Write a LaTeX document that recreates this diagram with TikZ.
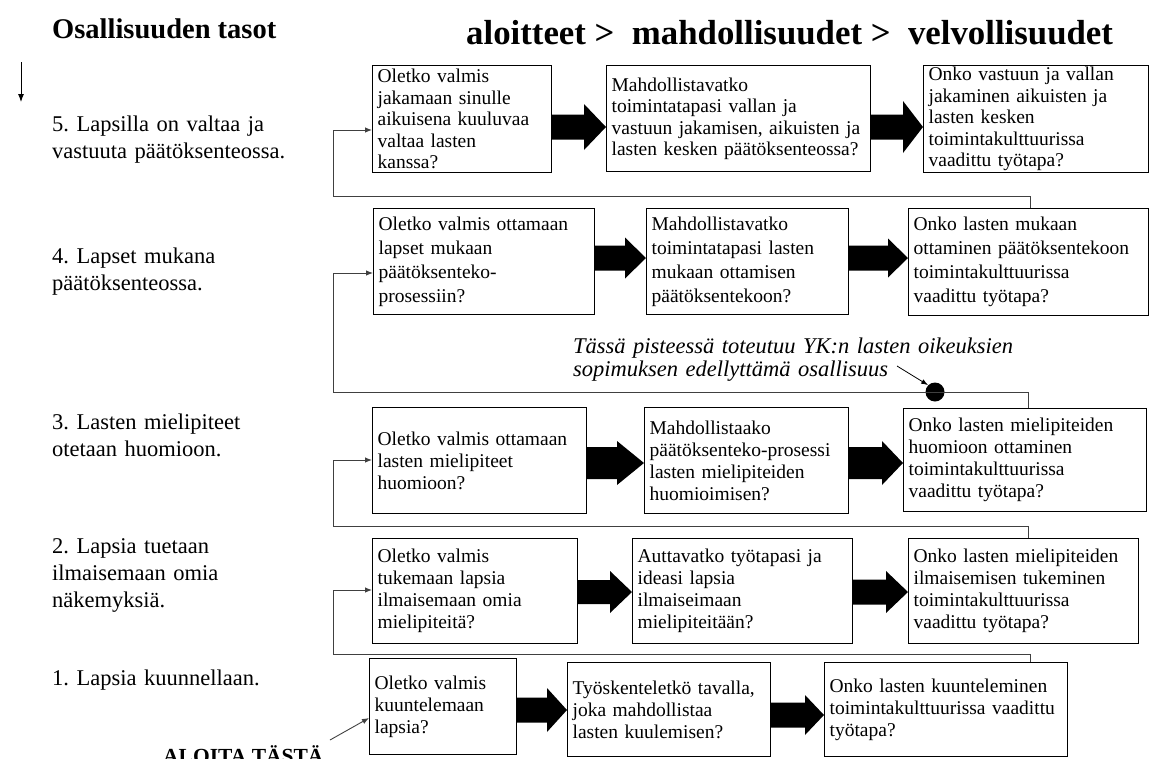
\documentclass[tikz,border=0pt]{standalone}
\usepackage{fontspec}
\setmainfont{Liberation Serif}
\frenchspacing
\usetikzlibrary{arrows.meta,calc}
\tikzset{
  box/.style={draw=black, line width=1.2pt, inner xsep=5pt, inner ysep=0pt,
    anchor=north west, align=left, font=\fontsize{19.5}{22}\selectfont},
  boxw/.style={box, font=\fontsize{19.5}{24}\selectfont},
  lbl/.style={anchor=base west, inner sep=0pt, align=left, text width=300pt,
    font=\fontsize{22.5}{27}\selectfont},
  fb/.style={draw=black!75, line width=0.9pt},
  fbarr/.style={fb, -{Latex[length=7pt,width=5.5pt]}},
}
% block arrow: from node, to node, y centre, head length, body half, head half
\newcommand{\blockarr}[6]{%
  \path (#1.east |- 0,#3) coordinate (ba-s) (#2.west |- 0,#3) coordinate (ba-e);
  \fill[black] ([yshift=#5pt]ba-s) -- ([xshift=-#4pt,yshift=#5pt]ba-e)
    -- ([xshift=-#4pt,yshift=#6pt]ba-e) -- (ba-e)
    -- ([xshift=-#4pt,yshift=-#6pt]ba-e) -- ([xshift=-#4pt,yshift=-#5pt]ba-e)
    -- ([yshift=-#5pt]ba-s) -- cycle;}
\begin{document}
\begin{tikzpicture}[x=1pt,y=-1pt]
\useasboundingbox (0,0) rectangle (1149,758);
\clip (0,0) rectangle (1149,758);

% titles
\node[anchor=base west, inner sep=0pt, font=\bfseries\fontsize{28.5}{34}\selectfont] (t1) at (52,38.5) {Osallisuuden tasot};
\node[anchor=base west, inner sep=0pt, font=\bfseries\fontsize{34.8}{40}\selectfont] (t2) at (466,44) {aloitteet >\ \ mahdollisuudet >\ \ velvollisuudet};

% down arrow
\coordinate (da1) at (21,62);
\coordinate (da2) at (21,102);
\draw[line width=0.9pt, -{Latex[length=8pt,width=6pt]}] (da1) -- (da2);

% level labels
\node[lbl] (l5) at (52,131) {5. Lapsilla on valtaa ja\\vastuuta päätöksenteossa.};
\node[lbl] (l4) at (52,263) {4. Lapset mukana\\päätöksenteossa.};
\node[lbl] (l3) at (52,429) {3. Lasten mielipiteet\\otetaan huomioon.};
\node[lbl] (l2) at (52,553) {2. Lapsia tuetaan\\ilmaisemaan omia\\näkemyksiä.};
\node[lbl] (l1) at (52,685) {1. Lapsia kuunnellaan.};

% row 5
\node[box, font=\fontsize{19.5}{21.5}\selectfont, minimum width=179pt, text width=169pt, minimum height=107pt] (r5a) at (372,65)
  {Oletko valmis\\jakamaan sinulle\\aikuisena kuuluvaa\\valtaa lasten\\kanssa?};
\node[box, font=\fontsize{19.5}{21.5}\selectfont, minimum width=264pt, text width=254pt, minimum height=106pt] (r5b) at (606,65)
  {Mahdollistavatko\\toimintatapasi vallan ja\\vastuun jakamisen, aikuisten ja\\lasten kesken päätöksenteossa?};
\node[box, font=\fontsize{19.5}{21.5}\selectfont, minimum width=225pt, text width=215pt, minimum height=107pt] (r5c) at (923,65)
  {Onko vastuun ja vallan\\jakaminen aikuisten ja\\lasten kesken\\toimintakulttuurissa\\vaadittu työtapa?};

% row 4
\node[boxw, minimum width=221pt, text width=211pt, minimum height=106pt] (r4a) at (373,208)
  {Oletko valmis ottamaan\\lapset mukaan\\päätöksenteko-\\prosessiin?};
\node[boxw, minimum width=202pt, text width=192pt, minimum height=106pt] (r4b) at (646,208)
  {Mahdollistavatko\\toimintatapasi lasten\\mukaan ottamisen\\päätöksentekoon?};
\node[boxw, minimum width=240pt, text width=230pt, minimum height=107pt] (r4c) at (908,208)
  {Onko lasten mukaan\\ottaminen päätöksentekoon\\toimintakulttuurissa\\vaadittu työtapa?};

% note
\node[anchor=base west, inner sep=0pt, align=left, text width=480pt,
  font=\itshape\fontsize{22.5}{23}\selectfont] (note) at (573,353)
  {Tässä pisteessä toteutuu YK:n lasten oikeuksien\\sopimuksen edellyttämä osallisuus};
\node[circle, fill=black, inner sep=0pt, minimum size=19pt] (dot) at (935,392) {};
\coordinate (ntail) at (897,366);
\draw[line width=0.8pt, -{Latex[length=7pt,width=5pt]}] (ntail) -- (dot.north west);

% row 3
\node[box, minimum width=214pt, text width=204pt, minimum height=106pt] (r3a) at (372,407)
  {Oletko valmis ottamaan\\lasten mielipiteet\\huomioon?};
\node[box, minimum width=204pt, text width=194pt, minimum height=106pt] (r3b) at (644,407)
  {Mahdollistaako\\päätöksenteko-prosessi\\lasten mielipiteiden\\huomioimisen?};
\node[box, minimum width=243pt, text width=233pt, minimum height=103pt] (r3c) at (903,408)
  {Onko lasten mielipiteiden\\huomioon ottaminen\\toimintakulttuurissa\\vaadittu työtapa?};

% row 2
\node[box, minimum width=205pt, text width=195pt, minimum height=105pt] (r2a) at (372,538)
  {Oletko valmis\\tukemaan lapsia\\ilmaisemaan omia\\mielipiteitä?};
\node[box, minimum width=220pt, text width=210pt, minimum height=105pt] (r2b) at (632,538)
  {Auttavatko työtapasi ja\\ideasi lapsia\\ilmaiseimaan\\mielipiteitään?};
\node[box, minimum width=230pt, text width=220pt, minimum height=105pt] (r2c) at (908,538)
  {Onko lasten mielipiteiden\\ilmaisemisen tukeminen\\toimintakulttuurissa\\vaadittu työtapa?};

% row 1
\node[box, minimum width=147pt, text width=137pt, minimum height=96pt] (r1a) at (369,658)
  {Oletko valmis\\kuuntelemaan\\lapsia?};
\node[box, minimum width=203pt, text width=193pt, minimum height=94pt] (r1b) at (567,662)
  {Työskenteletkö tavalla,\\joka mahdollistaa\\lasten kuulemisen?};
\node[box, minimum width=243pt, text width=233pt, minimum height=94pt] (r1c) at (824,662)
  {Onko lasten kuunteleminen\\toimintakulttuurissa vaadittu\\työtapa?};

% start label
\node[anchor=base west, inner sep=0pt, font=\bfseries\fontsize{21.5}{26}\selectfont] (go) at (163,763) {ALOITA TÄSTÄ};
\coordinate (gotail) at (330,740);
\draw[fbarr] (gotail) -- (r1a.west |- 0,718);

% block arrows
\blockarr{r5a}{r5b}{127}{22}{12.5}{23}
\blockarr{r5b}{r5c}{127}{20}{12.5}{26}
\blockarr{r4a}{r4b}{258}{21}{12.5}{20.5}
\blockarr{r4b}{r4c}{258}{20}{12.5}{19.5}
\blockarr{r3a}{r3b}{463}{27}{16}{22}
\blockarr{r3b}{r3c}{463}{21}{16}{22}
\blockarr{r2a}{r2b}{592}{22}{12}{21}
\blockarr{r2b}{r2c}{592}{22}{12.5}{21}
\blockarr{r1a}{r1b}{710}{20}{12.5}{22}
\blockarr{r1b}{r1c}{715}{19}{12.5}{20}

% feedback connectors to next level
\draw[fbarr] (r4c.north -| 1030,0) |- (333,196) |- (r5a.west |- 0,130);
\draw[fbarr] (r3c.north -| 1028,0) |- (333,392) |- (r4a.west |- 0,273);
\draw[fbarr] (r2c.north -| 1028,0) |- (333,526) |- (r3a.west |- 0,460);
\draw[fbarr] (r1c.north -| 1030,0) |- (333,654) |- (r2a.west |- 0,590);
\end{tikzpicture}
\end{document}
